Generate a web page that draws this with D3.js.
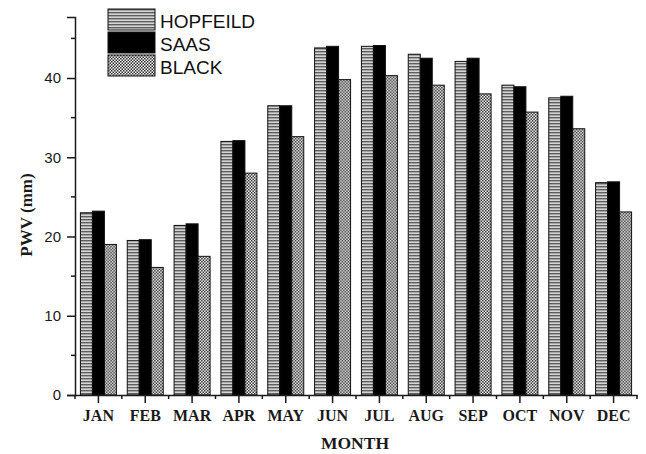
<!DOCTYPE html>
<html>
<head>
<meta charset="utf-8">
<script src="https://cdn.jsdelivr.net/npm/d3@7"></script>
<style>
  html, body { margin: 0; padding: 0; background: #fff; }
  svg { display: block; }
</style>
</head>
<body>
<div id="chart"></div>
<script>
// Monthly precipitable water vapour (mm) from three models
const months = ["JAN", "FEB", "MAR", "APR", "MAY", "JUN", "JUL", "AUG", "SEP", "OCT", "NOV", "DEC"];
const seriesNames = ["HOPFEILD", "SAAS", "BLACK"];
const hopfeild = [23.0, 19.5, 21.4, 32.0, 36.5, 43.8, 44.0, 43.0, 42.1, 39.1, 37.5, 26.8];
const saas     = [23.2, 19.6, 21.6, 32.1, 36.5, 44.0, 44.1, 42.5, 42.5, 38.9, 37.7, 26.9];
const black    = [19.0, 16.1, 17.5, 28.0, 32.6, 39.8, 40.3, 39.1, 38.0, 35.7, 33.6, 23.1];
const yMajorTicks = [0, 10, 20, 30, 40];
const yMinorTicks = [5, 15, 25, 35, 45];

const seriesValues = [hopfeild, saas, black];
const W = 646, H = 454;

const svg = d3.select("#chart").append("svg")
  .attr("width", W).attr("height", H);

// Fill patterns: horizontal stripes, solid, fine checker
const defs = svg.append("defs");
const stripes = defs.append("pattern")
  .attr("id", "pat-stripes").attr("patternUnits", "userSpaceOnUse")
  .attr("width", 6).attr("height", 3);
stripes.append("rect").attr("width", 6).attr("height", 3).attr("fill", "#d4d4d4");
stripes.append("rect").attr("width", 6).attr("height", 1.4).attr("fill", "#5e5e5e");

const checker = defs.append("pattern")
  .attr("id", "pat-checker").attr("patternUnits", "userSpaceOnUse")
  .attr("width", 3).attr("height", 3);
checker.append("rect").attr("width", 3).attr("height", 3).attr("fill", "#f2f2f2");
checker.append("rect").attr("width", 1.5).attr("height", 1.5).attr("fill", "#333");
checker.append("rect").attr("x", 1.5).attr("y", 1.5).attr("width", 1.5).attr("height", 1.5).attr("fill", "#333");

const fills = ["url(#pat-stripes)", "#000", "url(#pat-checker)"];

// Scales
const x = d3.scaleBand().domain(months).range([75, 637]).padding(0);
const groupW = 36;
const xs = d3.scaleBand().domain(seriesNames).range([0, groupW]).padding(0);
const y = d3.scaleLinear().domain([0, 47.7]).range([395, 17]);

// Bars
const rows = months.map((m, i) => ({ month: m, vals: seriesNames.map((s, k) => ({ s, k, v: seriesValues[k][i] })) }));
const groups = svg.append("g").selectAll("g").data(rows).join("g")
  .attr("transform", d => `translate(${x(d.month) + (x.bandwidth() - groupW) / 2},0)`);
groups.selectAll("rect").data(d => d.vals).join("rect")
  .attr("x", d => xs(d.s))
  .attr("width", xs.bandwidth())
  .attr("y", d => y(d.v))
  .attr("height", d => y(0) - y(d.v))
  .attr("fill", d => fills[d.k])
  .attr("stroke", "#111")
  .attr("stroke-width", 1);

// Y axis
const yAxis = svg.append("g").attr("transform", "translate(75,0)");
yAxis.call(d3.axisLeft(y).tickValues(yMajorTicks).tickSize(8).tickPadding(6));
yAxis.selectAll(".minor").data(yMinorTicks).join("line")
  .attr("class", "minor")
  .attr("x1", -4).attr("x2", 0)
  .attr("y1", d => y(d)).attr("y2", d => y(d));
yAxis.selectAll("text")
  .attr("font-family", "'Liberation Sans', Arial, sans-serif")
  .attr("font-size", 15).attr("fill", "#1a1a1a");

// X axis
const xAxis = svg.append("g").attr("transform", `translate(0,${y(0)})`);
xAxis.call(d3.axisBottom(x).tickSize(8).tickPadding(7).tickSizeOuter(0));
const bounds = d3.range(0, months.length + 1).map(i => x.range()[0] + i * x.step());
xAxis.selectAll(".minor").data(bounds).join("line")
  .attr("class", "minor")
  .attr("x1", d => d).attr("x2", d => d)
  .attr("y1", 0).attr("y2", 4);
xAxis.selectAll("text")
  .attr("font-family", "'Liberation Serif', 'Times New Roman', serif")
  .attr("font-weight", "bold").attr("font-size", 16).attr("fill", "#1a1a1a");

svg.selectAll(".domain, .tick line, .minor")
  .attr("stroke", "#1a1a1a").attr("stroke-width", 1.5);

// Axis titles
svg.append("text")
  .attr("x", 355).attr("y", 449)
  .attr("text-anchor", "middle")
  .attr("font-family", "'Liberation Serif', 'Times New Roman', serif")
  .attr("font-weight", "bold").attr("font-size", 17.5).attr("fill", "#1a1a1a")
  .text("MONTH");
svg.append("text")
  .attr("transform", "translate(32,215) rotate(-90)")
  .attr("text-anchor", "middle")
  .attr("font-family", "'Liberation Serif', 'Times New Roman', serif")
  .attr("font-weight", "bold").attr("font-size", 17).attr("fill", "#1a1a1a")
  .text("PWV (mm)");

// Legend
const legend = svg.append("g").attr("transform", "translate(108,9)");
const li = legend.selectAll("g").data(seriesNames).join("g")
  .attr("transform", (d, i) => `translate(0,${i * 23})`);
li.append("rect")
  .attr("width", 47).attr("height", 21)
  .attr("fill", (d, i) => fills[i])
  .attr("stroke", "#111").attr("stroke-width", 1);
li.append("text")
  .attr("x", 52).attr("y", 18.5)
  .attr("font-family", "'Liberation Sans', Arial, sans-serif")
  .attr("font-size", 19).attr("fill", "#111")
  .text(d => d);
</script>
</body>
</html>
